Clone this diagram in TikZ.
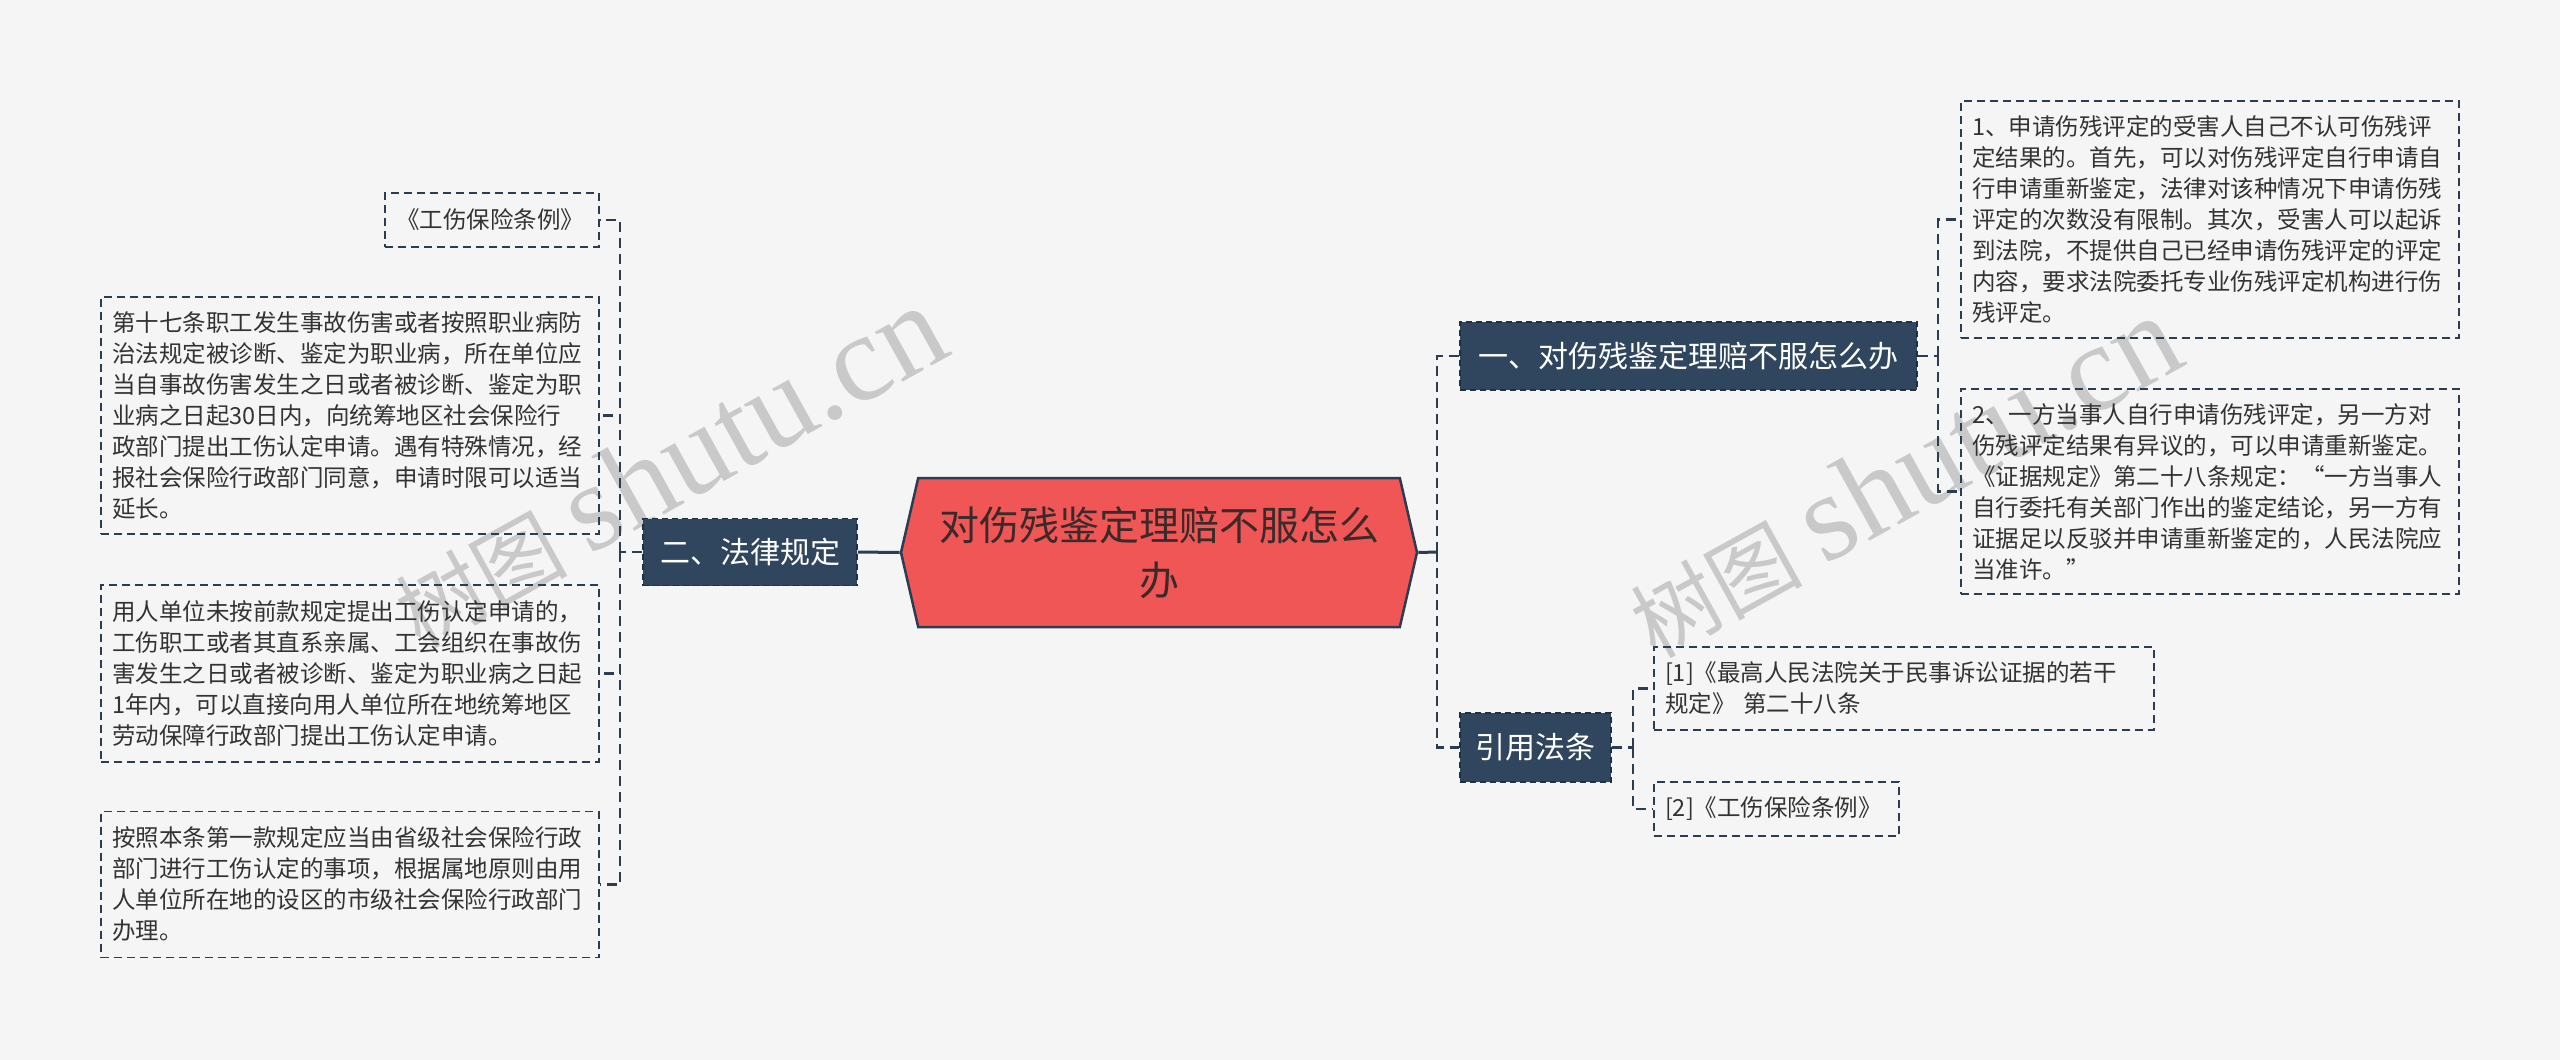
\documentclass[tikz,border=0pt]{standalone}
\usepackage{fontspec}
\setmainfont{Noto Sans CJK SC}
\newfontfamily\wmfont{Liberation Serif}
\usepackage{tikz}
\usetikzlibrary{shapes.symbols}
\definecolor{bgc}{HTML}{F5F5F5}
\definecolor{rootred}{HTML}{F05656}
\definecolor{navy}{HTML}{2F465E}
\definecolor{edge}{HTML}{2A3D52}
\definecolor{txt}{HTML}{333333}
\definecolor{wmark}{HTML}{C9C9C9}

\begin{document}
\begin{tikzpicture}[x=1pt, y=-1pt,
	root/.style={shape=signal, signal to=west and east, signal pointer angle=154, draw=edge, line width=2.5pt, fill=rootred, text={rgb,255:red,58;green,42;blue,42}, align=center, font=\fontsize{40}{55}\selectfont, minimum width=516pt, minimum height=149pt, inner sep=0pt},
	topic/.style={draw={rgb,255:red,30;green,48;blue,68}, line width=1.5pt, dash pattern=on 6pt off 4pt, fill=navy, text=white, font=\fontsize{30}{36}\selectfont, inner sep=0pt},
	leaf/.style={draw=edge, line width=1.6pt, dash pattern=on 8pt off 5pt, text=txt, font=\fontsize{23.5}{31}\selectfont, align=left, inner xsep=11pt, inner ysep=0pt, text width=#1},
	link/.style={draw=edge, line width=2.2pt, dash pattern=on 10pt off 6pt},
	stem/.style={draw=edge, line width=3pt},
	wm/.style={text=wmark, rotate=29, anchor=base west, inner sep=0pt}]
	\fill[bgc] (0,0) rectangle (2560,1060);
	\useasboundingbox (0,0) rectangle (2560,1060);
	% watermarks
	\node[wm] (wm1) at (420,650) {{\fontsize{86}{86}\selectfont 树图}\hspace{22pt}{\wmfont\fontsize{124}{124}\selectfont shutu.cn}};
	\node[wm] (wm2) at (1655,660) {{\fontsize{86}{86}\selectfont 树图}\hspace{22pt}{\wmfont\fontsize{124}{124}\selectfont shutu.cn}};
	% centre and main branches
	\node[root] (root) at (1159,552.5) {对伤残鉴定理赔不服怎么\\办};
	\node[topic, minimum width=214pt, minimum height=67pt] (law) at (750,552) {二、法律规定};
	\node[topic, minimum width=457pt, minimum height=68pt] (topic1) at (1688.5,356) {一、对伤残鉴定理赔不服怎么办};
	\node[topic, minimum width=151pt, minimum height=69pt] (topic3) at (1535.5,747.5) {引用法条};
	% left leaves
	\node[leaf=192pt, minimum height=54pt] (l1) at (492,220) {《工伤保险条例》};
	\node[leaf=476pt, minimum height=237pt] (l2) at (350,415.5) {第十七条职工发生事故伤害或者按照职业病防\\治法规定被诊断、鉴定为职业病，所在单位应\\当自事故伤害发生之日或者被诊断、鉴定为职\\业病之日起30日内，向统筹地区社会保险行\\政部门提出工伤认定申请。遇有特殊情况，经\\报社会保险行政部门同意，申请时限可以适当\\延长。};
	\node[leaf=476pt, minimum height=177pt] (l3) at (350,673.5) {用人单位未按前款规定提出工伤认定申请的，\\工伤职工或者其直系亲属、工会组织在事故伤\\害发生之日或者被诊断、鉴定为职业病之日起\\1年内，可以直接向用人单位所在地统筹地区\\劳动保障行政部门提出工伤认定申请。};
	\node[leaf=476pt, minimum height=146pt] (l4) at (350,884.5) {按照本条第一款规定应当由省级社会保险行政\\部门进行工伤认定的事项，根据属地原则由用\\人单位所在地的设区的市级社会保险行政部门\\办理。};
	% right leaves
	\node[leaf=476pt, minimum height=237pt] (r1) at (2210,219.5) {1、申请伤残评定的受害人自己不认可伤残评\\定结果的。首先，可以对伤残评定自行申请自\\行申请重新鉴定，法律对该种情况下申请伤残\\评定的次数没有限制。其次，受害人可以起诉\\到法院，不提供自己已经申请伤残评定的评定\\内容，要求法院委托专业伤残评定机构进行伤\\残评定。};
	\node[leaf=476pt, minimum height=205pt] (r2) at (2210,491.5) {2、一方当事人自行申请伤残评定，另一方对\\伤残评定结果有异议的，可以申请重新鉴定。\\《证据规定》第二十八条规定：“一方当事人\\自行委托有关部门作出的鉴定结论，另一方有\\证据足以反驳并申请重新鉴定的，人民法院应\\当准许。”};
	\node[leaf=478pt, minimum height=83pt] (c1) at (1904,688.5) {[1]《最高人民法院关于民事诉讼证据的若干\\规定》 第二十八条};
	\node[leaf=223pt, minimum height=54pt] (c2) at (1776.5,809) {[2]《工伤保险条例》};
	% connectors
	\coordinate (ljoin) at (620,552);
	\coordinate (rjoin) at (1437,552);
	\coordinate (ajoin) at (1938,356);
	\coordinate (cjoin) at (1633,747.5);
	\draw[stem] (law.east) -- (root.west);
	\draw[link] (law.west) -- (ljoin);
	\foreach \n in {l1,l2,l3,l4} {\draw[link] (ljoin) |- (\n.east);}
	\draw[stem] (root.east) -- (rjoin);
	\foreach \n in {topic1,topic3} {\draw[link] (rjoin) |- (\n.west);}
	\draw[link] (topic1.east) -- (ajoin);
	\foreach \n in {r1,r2} {\draw[link] (ajoin) |- (\n.west);}
	\draw[link] (topic3.east) -- (cjoin);
	\foreach \n in {c1,c2} {\draw[link] (cjoin) |- (\n.west);}
\end{tikzpicture}
\end{document}
